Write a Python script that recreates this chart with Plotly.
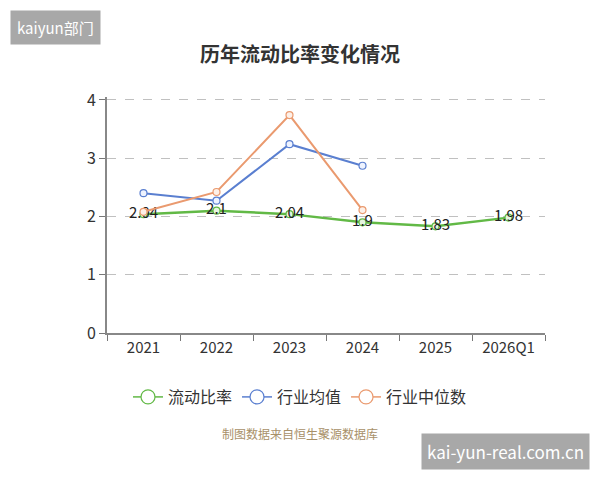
import plotly.graph_objects as go

categories = ["2021", "2022", "2023", "2024", "2025", "2026Q1"]
current_ratio = [2.04, 2.10, 2.04, 1.90, 1.83, 1.98]
industry_avg = [2.40, 2.27, 3.24, 2.87, None, None]
industry_median = [2.08, 2.42, 3.74, 2.11, None, None]
ratio_labels = ["2.04", "2.1", "2.04", "1.9", "1.83", "1.98"]
y_ticks = [0, 1, 2, 3, 4]

FONT = "Noto Sans CJK SC"
GREEN = "#62b946"
BLUE = "#5a7fd0"
ORANGE = "#ea9a6f"

series = [
    ("流动比率", current_ratio, GREEN, "#e6f5df", 2.5),
    ("行业均值", industry_avg, BLUE, "#eef3ff", 2),
    ("行业中位数", industry_median, ORANGE, "#fdf0e8", 2),
]

fig = go.Figure()
for i, (name, vals, col, fill, w) in enumerate(series):
    fig.add_trace(go.Scatter(
        x=categories, y=vals, name=name,
        mode="lines+markers+text" if i == 0 else "lines+markers",
        text=ratio_labels if i == 0 else None, textposition="middle center",
        textfont=dict(size=15, color="#222", family=FONT),
        line=dict(color=col, width=w),
        marker=dict(symbol="circle", size=7, color=fill, line=dict(color=col, width=1.2)),
        showlegend=False,
    ))
for name, vals, col, fill, w in series:
    fig.add_trace(go.Scatter(
        x=[categories[0]], y=[None], name=name, mode="lines+markers",
        line=dict(color=col, width=1.5),
        marker=dict(symbol="circle", size=14, color="#ffffff", line=dict(color=col, width=1.2)),
        showlegend=True,
    ))

PLOT_H = 480 - 97 - 147

fig.update_layout(
    width=600, height=480,
    margin=dict(l=107, r=55, t=97, b=147),
    paper_bgcolor="white", plot_bgcolor="white",
    font=dict(family=FONT, color="#333"),
    title=dict(text="<b>历年流动比率变化情况</b>", x=0.5, xanchor="center",
               y=1 - 55 / 480, yanchor="middle",
               font=dict(size=20, color="#333", family=FONT)),
    showlegend=True,
    legend=dict(orientation="h", x=(300 - 107) / 438, xanchor="center",
                y=-(397 - 333) / PLOT_H, yanchor="middle",
                font=dict(size=16, color="#333", family=FONT),
                traceorder="normal"),
    xaxis=dict(type="category", range=[-0.5, 5.5], tickson="boundaries",
               ticks="outside", ticklen=6, tickcolor="#777",
               showline=True, linecolor="#888", linewidth=2,
               showgrid=False, tickfont=dict(size=15, color="#333"),
               fixedrange=True),
    yaxis=dict(range=[0, 4.05], tickvals=y_ticks, ticks="outside", ticklen=6,
               tickcolor="#777", showline=True, linecolor="#888", linewidth=2,
               showgrid=True, gridcolor="#c0c0c0", griddash="dash", gridwidth=1,
               zeroline=False, tickfont=dict(size=16, color="#333")),
)

fig.add_annotation(xref="paper", yref="paper", x=(300 - 107) / 438, xanchor="center",
                   y=-(433 - 333) / PLOT_H, yanchor="middle",
                   text="制图数据来自恒生聚源数据库", showarrow=False,
                   font=dict(size=12, color="#a89068", family=FONT))

fig.add_annotation(xref="paper", yref="paper", x=-97 / 438, xanchor="left",
                   y=(333 - 10) / PLOT_H, yanchor="top",
                   text="kaiyun部门", showarrow=False, bgcolor="#a8a8a8",
                   borderpad=6, font=dict(size=15, color="white", family=FONT))

fig.add_annotation(xref="paper", yref="paper", x=(590 - 107) / 438, xanchor="right",
                   y=(333 - 470) / PLOT_H, yanchor="bottom",
                   text="kai-yun-real.com.cn", showarrow=False, bgcolor="#a8a8a8",
                   borderpad=5, font=dict(size=17, color="white", family=FONT))

fig.write_html("out.html")
